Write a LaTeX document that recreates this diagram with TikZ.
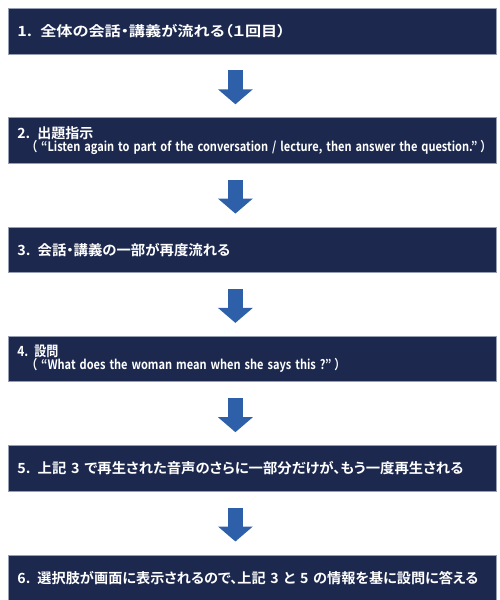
\documentclass[tikz,border=0pt]{standalone}
\usepackage{fontspec}
\setmainfont{Noto Sans CJK JP}[BoldFont={Noto Sans CJK JP Bold},CharacterWidth=AlternateProportional]
\usetikzlibrary{positioning,arrows.meta}
\definecolor{nvy}{RGB}{28,40,78}
\definecolor{edg}{RGB}{150,158,180}
\definecolor{arw}{RGB}{46,96,170}
% stretch one line to a given width, keeping its height
\newcommand{\fitw}[2]{\resizebox{#1}{\height}{#2}}

\begin{document}
\begin{tikzpicture}[x=1pt,y=1pt,font=\fontsize{14}{14.5}\selectfont\bfseries,node distance=63pt,
  stepbox/.style={draw=edg,line width=0.8pt,fill=nvy,text=white,minimum width=488pt,minimum height=45.5pt,
    text width=470pt,align=left,inner sep=0pt},
  blk/.style={arw,line width=15pt,-{Triangle[width=34pt,length=15pt]}}]
  \useasboundingbox (0,0) rectangle (500,-600);
  \node[stepbox,anchor=north west] (s1) at (8,-8) {\fitw{268pt}{1. 全体の会話・講義が流れる（１回目）}};
  \node[stepbox,below=of s1] (s2) {\fitw{76pt}{2. 出題指示}\\[-1.5pt]
    \hspace*{14pt}\fontsize{13}{13}\selectfont\fitw{455pt}{（\hspace{5pt}“Listen again to part of the conversation / lecture, then answer the question.”\hspace{4pt}）}};
  \node[stepbox,below=of s2] (s3) {\fitw{213pt}{3. 会話・講義の一部が再度流れる}};
  \node[stepbox,below=of s3] (s4) {\fitw{41pt}{4. 設問}\\[-1.5pt]
    \hspace*{14pt}\fontsize{13}{13}\selectfont\fitw{309pt}{（\hspace{5pt}“What does the woman mean when she says this ?”\hspace{4pt}）}};
  \node[stepbox,below=of s4] (s5) {\fitw{446pt}{5. 上記 3 で再生された音声のさらに一部分だけが、もう一度再生される}};
  \node[stepbox,below=of s5] (s6) {\fitw{461pt}{6. 選択肢が画面に表示されるので、上記 3 と 5 の情報を基に設問に答える}};
  % block arrows between steps
  \foreach \a/\b in {s1/s2,s2/s3,s3/s4,s4/s5,s5/s6}
    \draw[blk] ([xshift=-17pt,yshift=-16pt]\a.south) -- ([xshift=-17pt,yshift=13pt]\b.north);
\end{tikzpicture}
\end{document}
